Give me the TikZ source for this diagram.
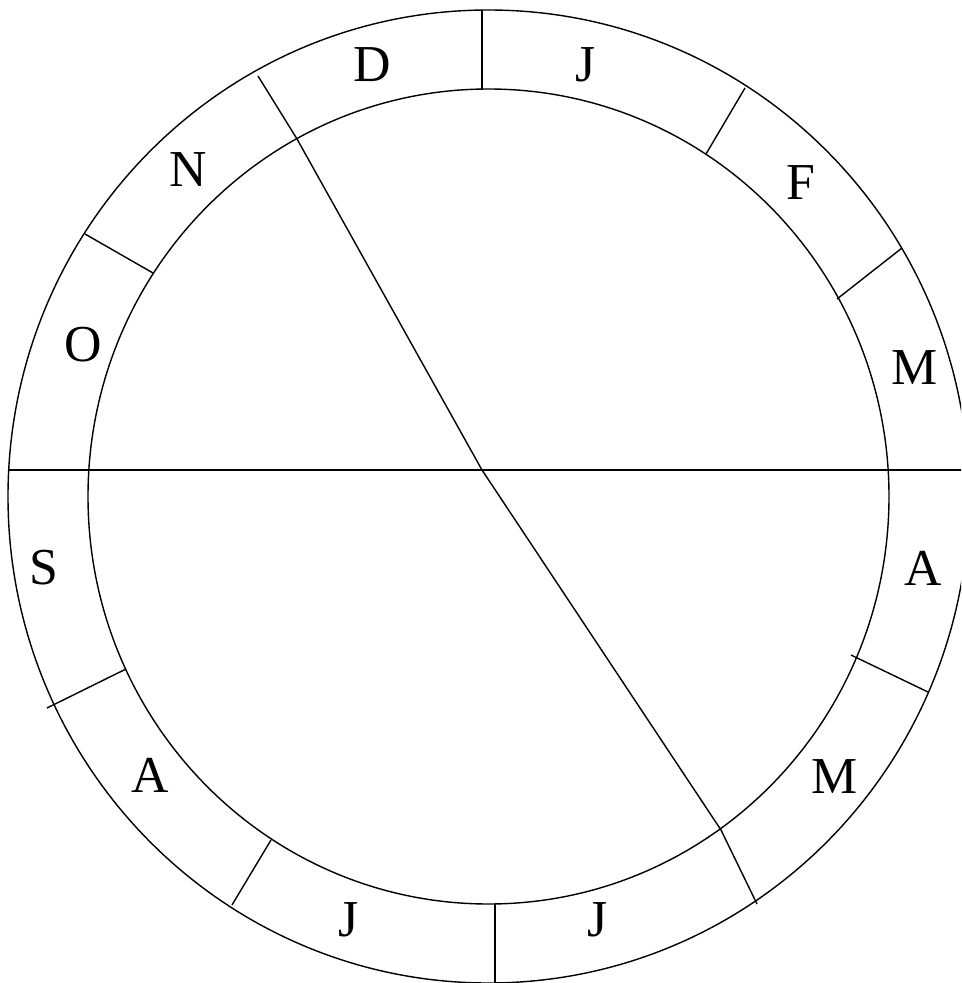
\documentclass[tikz,border=0pt]{standalone}
\usepackage{fontspec}
\setmainfont{Liberation Serif}
\usepackage{tikz}
\usetikzlibrary{positioning}

\begin{document}
\begin{tikzpicture}[x=0.02cm, y=-0.02cm, line width=0.8pt,
    every node/.style={font=\fontsize{29.5}{30}\selectfont, inner sep=0pt}]
  \useasboundingbox (0,0) rectangle (961,983);
  \clip (0,0) rectangle (961,983);
  % Rings
  \coordinate (ctr) at (488.5,496.5);
  \draw (ctr) ellipse [x radius=480.5, y radius=486.5];
  \draw (ctr) ellipse [x radius=400.5, y radius=407.5];
  % Month divisions
  \foreach \xa/\ya/\xb/\yb in {482/10/482/89, 745/88/706/154, 902/248/837/299,
      928/692/851/655, 495/904/495/990, 232/905/271/840, 47/708/126/669, 85/234/153/273}{
    \draw (\xa,\ya) -- (\xb,\yb);
  }
  \draw (8,470) -- (969,470);
  % Kinked line
  \coordinate (up) at (258,76);
  \coordinate (upin) at (297,139);
  \coordinate (mid) at (482,470);
  \coordinate (lowin) at (721,830);
  \coordinate (low) at (757,904);
  \draw (up) -- (upin) -- (mid) -- (lowin) -- (low);
  % Months
  \foreach \nm/\px/\py/\lbl in {dec/372/65/D, jan/586/65/J, feb/801/183/F, mar/915/368/M,
      apr/923/568/A, may/835/777/M, jun/598/920/J, jul/349/920/J, aug/150/775/A,
      sep/44/568/S, oct/83/345/O, nov/188/170/N}{
    \node (\nm) at (\px,\py) {\lbl};
  }
\end{tikzpicture}
\end{document}
